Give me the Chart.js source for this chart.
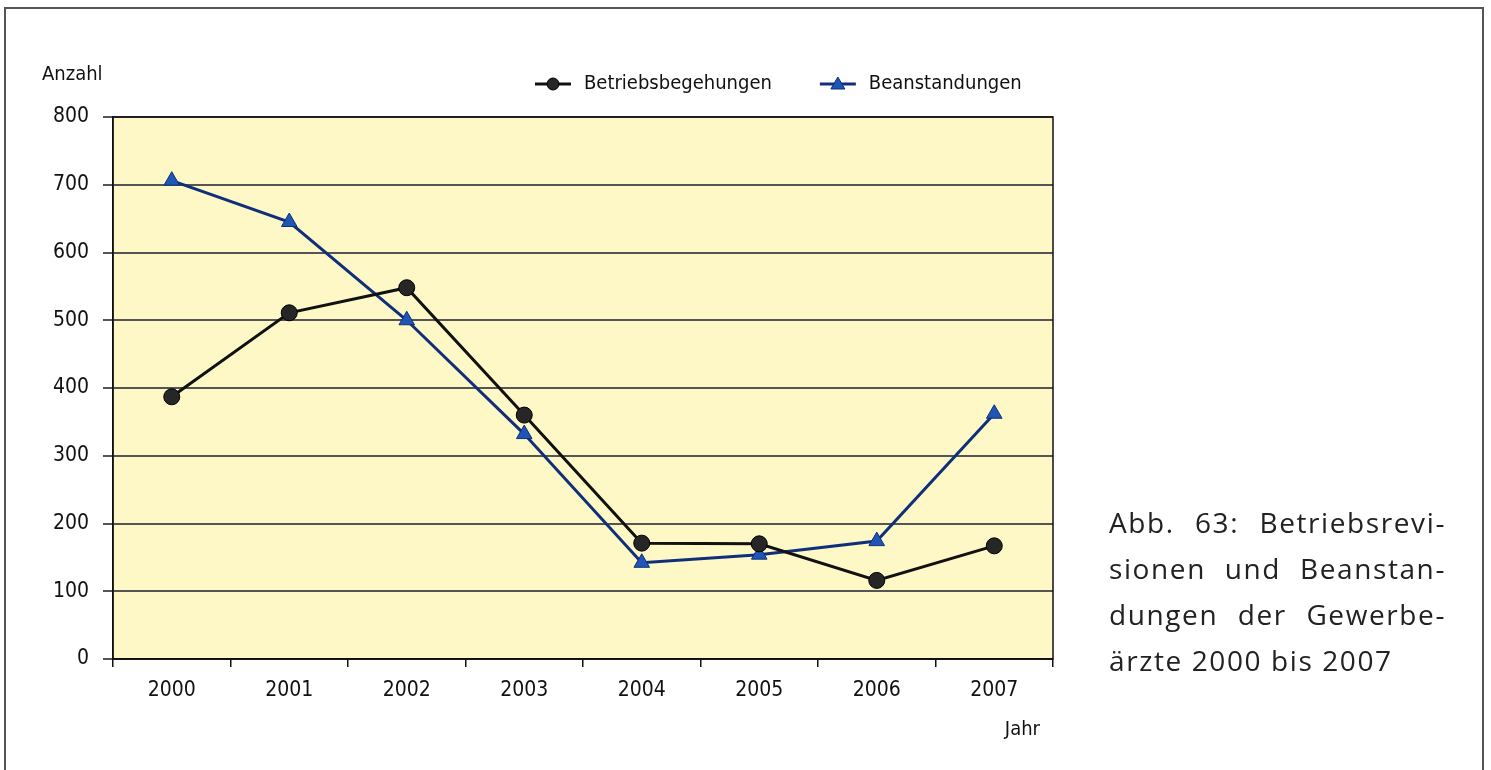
<!DOCTYPE html>
<html>
<head>
<meta charset="utf-8">
<script src="https://cdn.jsdelivr.net/npm/chart.js@4.4.1/dist/chart.umd.min.js"></script>
<style>
  html, body { margin: 0; padding: 0; background: #fff; }
  #frame {
    position: absolute; left: 4px; top: 7px; width: 1480px; height: 800px;
    border: 2px solid #555; box-sizing: border-box;
  }
  #wrap { position: absolute; left: 0; top: 0; width: 1491px; height: 770px; }
  #caption {
    position: absolute; left: 1109px; top: 499px; width: 337px;
    font-family: "Open Sans", "Noto Sans", sans-serif; font-size: 28px;
    letter-spacing: 1.6px; line-height: 46px; color: #222;
  }
  #caption div { text-align: justify; text-align-last: justify; white-space: nowrap; }
</style>
</head>
<body>
<div id="frame"></div>
<div id="wrap"><canvas id="chart" width="1491" height="770"></canvas></div>
<div id="caption">
  <div>Abb. 63: Betriebsrevi-</div>
  <div>sionen und Beanstan-</div>
  <div>dungen der Gewerbe-</div>
  <div style="text-align-last:left">ärzte 2000 bis 2007</div>
</div>
<script>
var years = ['2000', '2001', '2002', '2003', '2004', '2005', '2006', '2007']
var betriebsbegehungen = [387, 511, 548, 360, 171, 170, 116, 167]
var beanstandungen = [706, 645, 500, 332, 142, 154, 174, 362]
var yTicks = [0, 100, 200, 300, 400, 500, 600, 700, 800]

var narrowFont = '"DejaVu Sans Condensed", "Liberation Sans Narrow", sans-serif'

// yellow plot background and black frame round the plot area
var plotBackground = {
  id: 'plotBackground',
  beforeDraw: function(chart) {
    var ctx = chart.ctx, a = chart.chartArea
    ctx.save()
    ctx.fillStyle = '#fdf8c6'
    ctx.fillRect(a.left, a.top, a.right - a.left, a.bottom - a.top)
    ctx.restore()
  },
  beforeDatasetsDraw: function(chart) {
    var ctx = chart.ctx, a = chart.chartArea
    ctx.save()
    ctx.strokeStyle = '#111'
    ctx.lineWidth = 1.5
    ctx.strokeRect(a.left, a.top, a.right - a.left, a.bottom - a.top)
    ctx.restore()
  }
}

// axis titles and the legend with line + marker symbols
var extras = {
  id: 'extras',
  afterDraw: function(chart) {
    var ctx = chart.ctx, a = chart.chartArea
    ctx.save()
    ctx.fillStyle = '#111'
    ctx.font = '20px ' + narrowFont
    ctx.textBaseline = 'middle'
    ctx.textAlign = 'left'
    ctx.fillText('Anzahl', 42, 75)
    ctx.textAlign = 'right'
    ctx.fillText('Jahr', a.right - 13, 730)

    var x = a.left + 422
    var y = 84
    ctx.textAlign = 'left'
    chart.data.datasets.forEach(function(ds) {
      ctx.strokeStyle = ds.borderColor
      ctx.lineWidth = 3
      ctx.beginPath()
      ctx.moveTo(x, y)
      ctx.lineTo(x + 36, y)
      ctx.stroke()
      ctx.fillStyle = ds.pointBackgroundColor
      ctx.strokeStyle = ds.pointBorderColor
      ctx.lineWidth = 1
      ctx.beginPath()
      if (ds.pointStyle === 'triangle') {
        ctx.moveTo(x + 18, y - 7)
        ctx.lineTo(x + 25, y + 5)
        ctx.lineTo(x + 11, y + 5)
        ctx.closePath()
      } else {
        ctx.arc(x + 18, y, 6, 0, Math.PI * 2)
      }
      ctx.fill()
      ctx.stroke()
      ctx.fillStyle = '#111'
      ctx.fillText(ds.label, x + 49, y)
      x += 49 + ctx.measureText(ds.label).width + 48
    })
    ctx.restore()
  }
}

var chart = new Chart(document.getElementById('chart'), {
  type: 'line',
  data: {
    labels: years,
    datasets: [{
      label: 'Betriebsbegehungen',
      data: betriebsbegehungen,
      borderColor: '#111111',
      borderWidth: 3,
      pointStyle: 'circle',
      pointRadius: 8,
      pointBackgroundColor: '#262626',
      pointBorderColor: '#000000',
      pointBorderWidth: 1,
      tension: 0
    }, {
      label: 'Beanstandungen',
      data: beanstandungen,
      borderColor: '#0f2f7a',
      borderWidth: 3,
      pointStyle: 'triangle',
      pointRadius: 9,
      pointBackgroundColor: '#1f55b5',
      pointBorderColor: '#0f2f7a',
      pointBorderWidth: 1,
      tension: 0
    }]
  },
  options: {
    responsive: false,
    animation: false,
    layout: { padding: { left: 0, top: 117, right: 438, bottom: 51 } },
    plugins: { legend: { display: false }, tooltip: { enabled: false } },
    scales: {
      x: {
        offset: true,
        afterFit: function(scale) { scale.height = 60 },
        grid: { offset: true, drawOnChartArea: false, drawTicks: true, tickLength: 8, color: '#111', lineWidth: 1.5 },
        border: { color: '#111', width: 1.5 },
        ticks: { color: '#111', padding: 11, font: { family: narrowFont, size: 21 } }
      },
      y: {
        min: 0,
        max: 800,
        afterFit: function(scale) { scale.width = 113 },
        afterBuildTicks: function(scale) {
          scale.ticks = yTicks.map(function(v) { return { value: v } })
        },
        grid: { color: '#555', lineWidth: 2, tickLength: 10 },
        border: { color: '#111', width: 1.5 },
        ticks: { color: '#111', padding: 14, font: { family: narrowFont, size: 21 } }
      }
    }
  },
  plugins: [plotBackground, extras]
})
</script>
</body>
</html>
